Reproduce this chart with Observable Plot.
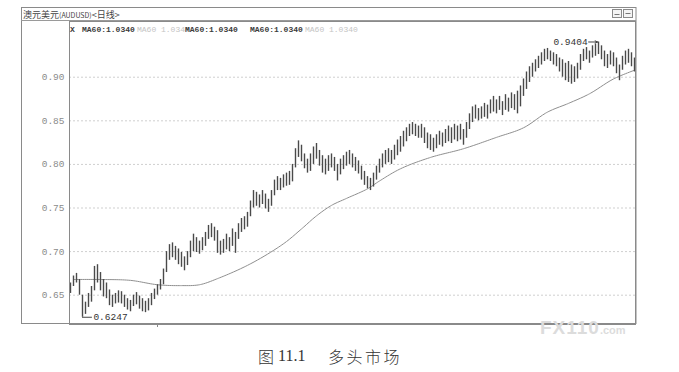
<!DOCTYPE html>
<html>
<head>
<meta charset="utf-8">
<script src="https://cdn.jsdelivr.net/npm/d3@7"></script>
<script src="https://cdn.jsdelivr.net/npm/@observablehq/plot@0.6"></script>
<style>
  html, body { margin: 0; padding: 0; background: #fff; }
  #wrap { position: relative; width: 679px; height: 372px; overflow: hidden; background: #fff; }
  #chart svg { display: block; }
  .wm { position: absolute; left: 540px; top: 318px; color: #dcdcdc; font-family: "Liberation Sans", sans-serif;
        font-weight: 900; font-size: 19px; letter-spacing: 1px; line-height: 20px; }
  .wm span { font-size: 11px; font-weight: 700; letter-spacing: 0; }
  .cap { position: absolute; top: 346px; font-size: 16px; line-height: 20px; color: #333; white-space: pre; }
  .cap.zh { font-family: "Noto Sans CJK SC", sans-serif; font-weight: 300; letter-spacing: 2.5px; }
  .cap.num { font-family: "Liberation Serif", serif; }
</style>
</head>
<body>
<div id="wrap">
  <div id="chart"></div>
  <div class="wm">FX110<span>.com</span></div>
  <div class="cap zh" style="left:258px">图</div>
  <div class="cap num" style="left:278px">11.1</div>
  <div class="cap zh" style="left:328px">多头市场</div>
</div>
<script>
// AUD/USD daily bars: high and low of each session, oldest first
const hi = [
  0.664,0.672,0.675,0.668,0.650,0.642,0.652,0.660,0.683,0.685,
  0.676,0.668,0.664,0.656,0.650,0.652,0.655,0.654,0.650,0.646,
  0.644,0.650,0.653,0.649,0.646,0.643,0.646,0.652,0.657,0.662,
  0.668,0.680,0.700,0.708,0.710,0.706,0.703,0.699,0.694,0.700,
  0.712,0.720,0.716,0.712,0.716,0.722,0.730,0.732,0.728,0.724,
  0.712,0.714,0.720,0.716,0.726,0.722,0.732,0.738,0.740,0.745,
  0.758,0.770,0.768,0.765,0.770,0.766,0.760,0.770,0.782,0.786,
  0.784,0.788,0.790,0.792,0.800,0.818,0.827,0.822,0.812,0.806,
  0.812,0.820,0.824,0.816,0.810,0.806,0.810,0.812,0.808,0.800,
  0.806,0.810,0.814,0.816,0.812,0.808,0.804,0.798,0.792,0.786,
  0.784,0.790,0.798,0.806,0.812,0.816,0.818,0.816,0.822,0.828,
  0.832,0.838,0.842,0.846,0.848,0.846,0.844,0.846,0.842,0.836,
  0.834,0.830,0.834,0.838,0.836,0.840,0.844,0.842,0.846,0.844,
  0.846,0.840,0.848,0.858,0.866,0.868,0.864,0.866,0.870,0.868,
  0.874,0.878,0.874,0.878,0.872,0.880,0.876,0.882,0.880,0.884,
  0.890,0.898,0.906,0.912,0.916,0.920,0.924,0.928,0.932,0.933,
  0.930,0.928,0.926,0.922,0.920,0.916,0.918,0.914,0.912,0.916,
  0.926,0.932,0.934,0.930,0.936,0.938,0.9404,0.936,0.930,0.926,
  0.930,0.928,0.922,0.914,0.924,0.930,0.932,0.928,0.922
];
const lo = [
  0.652,0.660,0.664,0.650,0.6247,0.628,0.636,0.642,0.655,0.664,
  0.655,0.648,0.646,0.638,0.636,0.640,0.641,0.640,0.636,0.633,
  0.631,0.637,0.639,0.634,0.631,0.630,0.632,0.638,0.645,0.650,
  0.656,0.662,0.676,0.690,0.693,0.690,0.685,0.682,0.678,0.684,
  0.693,0.700,0.699,0.697,0.701,0.706,0.714,0.716,0.712,0.698,
  0.696,0.698,0.702,0.700,0.706,0.698,0.714,0.722,0.725,0.728,
  0.740,0.750,0.752,0.750,0.754,0.749,0.745,0.752,0.764,0.770,
  0.770,0.773,0.775,0.776,0.780,0.796,0.808,0.803,0.795,0.790,
  0.792,0.800,0.806,0.798,0.790,0.788,0.792,0.796,0.792,0.781,
  0.788,0.794,0.798,0.800,0.796,0.792,0.789,0.782,0.776,0.772,
  0.770,0.774,0.782,0.790,0.796,0.800,0.802,0.800,0.805,0.810,
  0.814,0.820,0.826,0.832,0.834,0.832,0.830,0.830,0.824,0.818,
  0.816,0.814,0.818,0.822,0.820,0.824,0.826,0.824,0.828,0.826,
  0.828,0.822,0.830,0.840,0.848,0.852,0.850,0.852,0.854,0.852,
  0.858,0.860,0.858,0.862,0.856,0.862,0.860,0.864,0.862,0.858,
  0.866,0.878,0.886,0.894,0.900,0.906,0.910,0.914,0.918,0.920,
  0.918,0.914,0.912,0.906,0.900,0.896,0.894,0.892,0.894,0.898,
  0.908,0.918,0.920,0.916,0.922,0.924,0.926,0.920,0.912,0.910,
  0.914,0.912,0.904,0.896,0.908,0.914,0.916,0.912,0.906
];

// 60-day moving average, sampled at these bar positions
const maIdx = [1, 10, 20, 29, 37, 43, 49, 60, 71, 77, 82, 87, 92, 99, 103, 110, 120, 131, 142, 151, 159, 166, 173, 181, 188];
const maVal = [0.668,0.668,0.667,0.662,0.661,0.662,0.669,0.686,0.709,0.726,0.741,0.753,0.761,0.772,0.781,0.795,0.808,0.818,0.831,0.842,0.860,0.870,0.881,0.898,0.908];

const yTicks = [0.65, 0.70, 0.75, 0.80, 0.85, 0.90];
const titleText = ["澳元美元", "(AUDUSD)", "<日线>"];
const legendItems = ["X", "MA60:1.0340", "MA60 1.0340", "MA60:1.0340", "MA60:1.0340", "MA60 1.0340"];
const legendFaded = [false, false, true, false, false, true];

const bars = hi.map((h, i) => ({i, hi: h, lo: lo[i]}));
const ma = maIdx.map((i, k) => ({i, v: maVal[k]}));

const minVal = d3.min(lo), minIdx = lo.indexOf(minVal);
const maxVal = d3.max(hi), maxIdx = hi.indexOf(maxVal);
const fmt4 = d3.format(".4f");

const chart = Plot.plot({
  width: 679,
  height: 336,
  marginLeft: 69,
  marginRight: 44,
  marginTop: 21,
  marginBottom: 12,
  style: {background: "transparent", fontFamily: "Liberation Mono, monospace", fontSize: "9.5px", color: "#888"},
  x: {domain: [-1/3, bars.length - 2/3], axis: null},
  y: {domain: [0.6164, 0.9639], axis: null},
  marks: [
    Plot.gridY(yTicks, {stroke: "#cfcfcf", strokeOpacity: 1, strokeDasharray: "2,2"}),
    Plot.axisY(yTicks, {tickFormat: d3.format(".2f"), tickSize: 0, tickPadding: 5, label: null, fill: "#8a8a8a"}),
    Plot.axisX([29], {tickFormat: () => "", tickSize: 3, stroke: "#888", label: null}),
    Plot.line(ma, {x: "i", y: "v", curve: "catmull-rom", stroke: "#8f8f8f", strokeWidth: 1, strokeDasharray: "3,0.8"}),
    Plot.ruleX(bars, {x: "i", y1: "lo", y2: "hi", stroke: "#4a4a4a", strokeWidth: 1.4}),
    Plot.ruleY([minVal], {x1: minIdx, x2: minIdx + 3.3, stroke: "#444", strokeWidth: 1}),
    Plot.text([minVal], {x: minIdx + 3.3, y: d => d, text: d => fmt4(d), textAnchor: "start", dx: 1,
      fill: "#333", fontSize: 9.5, fontFamily: "Liberation Mono, monospace"}),
    Plot.arrow([maxVal], {x1: maxIdx - 3.3, x2: maxIdx - 0.3, y1: d => d, y2: d => d, stroke: "#444",
      strokeWidth: 1, headLength: 4, headAngle: 50}),
    Plot.text([maxVal], {x: maxIdx - 3.3, y: d => d, text: d => fmt4(d), textAnchor: "end", dx: -1,
      fill: "#333", fontSize: 9.5, fontFamily: "Liberation Mono, monospace"}),
    Plot.frame({stroke: "#8a8a8a"})
  ]
});

// window chrome: outer border, title bar, legend row, buttons
const svg = d3.select(chart);
svg.append("rect").attr("x", 21.5).attr("y", 7.5).attr("width", 614.5).attr("height", 316)
  .attr("fill", "none").attr("stroke", "#8a8a8a");
svg.append("line").attr("x1", 21).attr("x2", 636).attr("y1", 20.5).attr("y2", 20.5).attr("stroke", "#9a9a9a");

const title = svg.append("text").attr("x", 23).attr("y", 17.5).attr("fill", "#444")
  .attr("text-anchor", "start")
  .style("font-family", "Noto Sans CJK SC, sans-serif").style("font-size", "9px");
title.append("tspan").text(titleText[0]);
title.append("tspan").style("font-size", "7px").text(titleText[1]);
title.append("tspan").text(titleText[2]);

const legendX = [70, 82, 137, 185, 250, 305];
legendItems.forEach((t, k) => {
  svg.append("text").attr("x", legendX[k]).attr("y", 32)
    .attr("text-anchor", "start")
    .attr("fill", legendFaded[k] ? "#c4c4c4" : "#3c3c3c")
    .style("font-family", "Liberation Mono, monospace").style("font-size", "8px")
    .style("font-weight", legendFaded[k] ? "normal" : "bold")
    .text(t);
});

[612, 623].forEach((bx, k) => {
  svg.append("rect").attr("x", bx + 0.5).attr("y", 9.5).attr("width", 9).attr("height", 8)
    .attr("fill", "#f4f4f4").attr("stroke", "#8a8a8a");
  svg.append("line").attr("x1", bx + 2.5).attr("x2", bx + 7.5).attr("y1", k ? 13.5 : 14.5).attr("y2", k ? 13.5 : 14.5)
    .attr("stroke", "#777");
});

document.getElementById("chart").appendChild(chart);
</script>
</body>
</html>
